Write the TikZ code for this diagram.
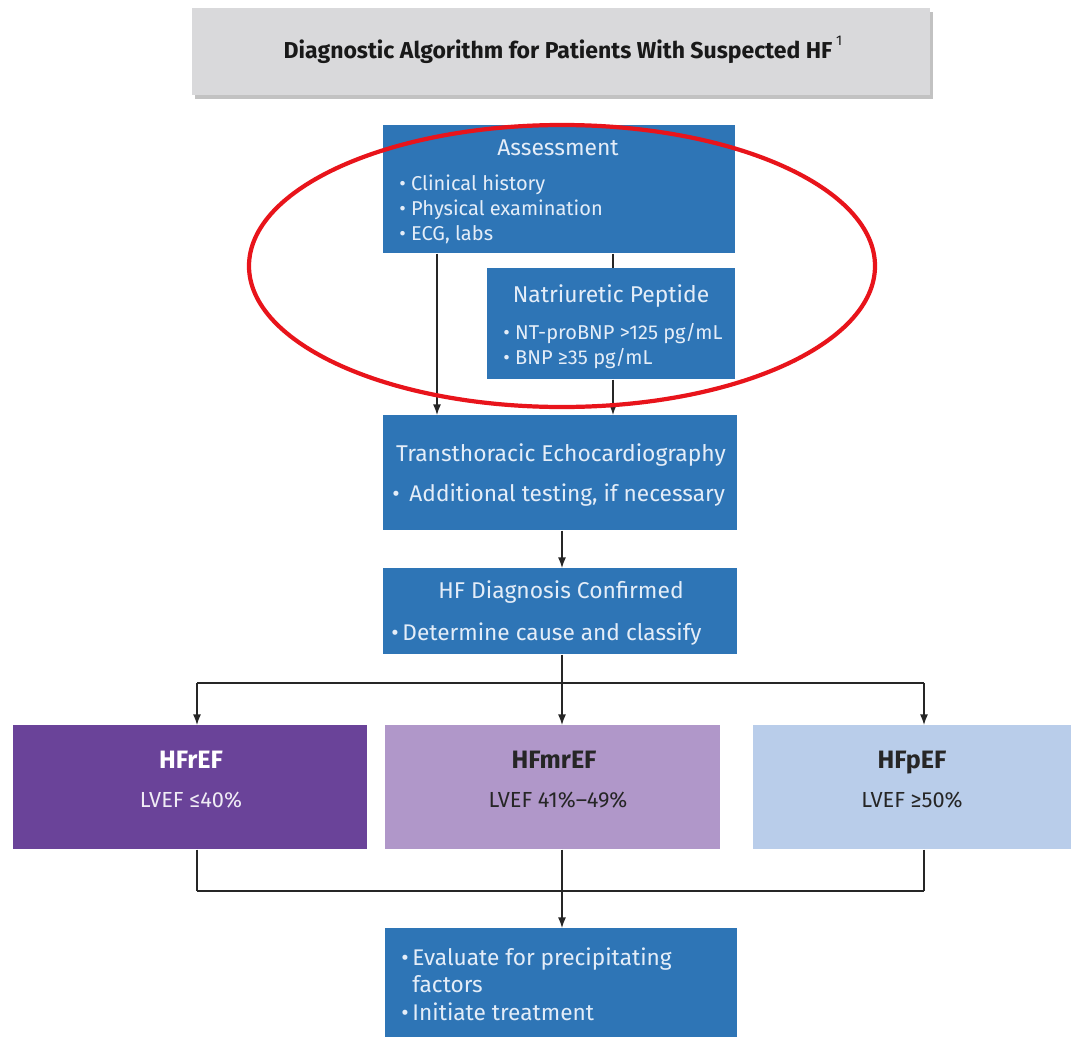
\documentclass[tikz,border=0pt]{standalone}
\usepackage{fontspec}
\setmainfont{Fira Sans}
\usetikzlibrary{arrows.meta,shadows}

\definecolor{hfblue}{HTML}{2E75B6}
\definecolor{hftext}{HTML}{E4EDF8}
\definecolor{hfgray}{HTML}{D9D9DB}
\definecolor{hfpurple}{HTML}{6A4399}
\definecolor{hflilac}{HTML}{B097C9}
\definecolor{hfsky}{HTML}{B9CDEA}
\definecolor{hfred}{HTML}{E8141B}

\begin{document}
\begin{tikzpicture}[x=0.02cm,y=-0.02cm]
    \tikzstyle{box}=[rectangle,anchor=north west,inner sep=0pt,fill=hfblue]
    \tikzstyle{head}=[inner sep=0pt,text=hftext,font=\fontsize{13}{15}\selectfont]
    \tikzstyle{items}=[anchor=north west,align=left,inner sep=0pt,text=hftext,font=\fontsize{11.4}{14.2}\selectfont]
    \tikzstyle{group}=[inner sep=0pt,text depth=0pt,font=\fontsize{14.3}{16}\selectfont\bfseries]
    \tikzstyle{lvef}=[inner sep=0pt,font=\fontsize{12.4}{14}\selectfont]
    \tikzstyle{link}=[draw=black!85,line width=0.7pt]
    \tikzstyle{arrow}=[link,-{Latex[length=6pt,width=4.5pt]}]

    \useasboundingbox (0,0) rectangle (1071,1037);

    % title bar
    \node (title)[box,fill=hfgray,minimum width=14.76cm,minimum height=1.74cm,
        drop shadow={shadow xshift=1.5pt,shadow yshift=-2pt,fill=black!40,opacity=0.6}] at (192,8) {};
    \node (titletext)[inner sep=0pt,font=\fontsize{13.1}{15}\selectfont\bfseries,text=black!90]
        at (563,50) {Diagnostic Algorithm for Patients With Suspected HF\,{\mdseries\raisebox{1.1ex}{\footnotesize 1}}};

    % blue boxes
    \node (assess)[box,minimum width=7.04cm,minimum height=2.56cm] at (383,125) {};
    \node (np)[box,minimum width=4.96cm,minimum height=2.22cm] at (487,268) {};
    \node (echo)[box,minimum width=7.08cm,minimum height=2.30cm] at (383,415) {};
    \node (dx)[box,minimum width=7.08cm,minimum height=1.72cm] at (383,568) {};
    \node (eval)[box,minimum width=7.04cm,minimum height=2.18cm] at (385,928) {};

    \node (assesshead)[head] at (558,148) {Assessment};
    \node (assessitems)[items] at (399,175) {• Clinical history\\• Physical examination\\• ECG, labs};
    \node (nphead)[head] at (611,296) {Natriuretic Peptide};
    \node (npitems)[items] at (503,323) {• NT-proBNP >125 pg/mL\\• BNP ≥35 pg/mL};
    \node (echohead)[head] at (561,455) {Transthoracic Echocardiography};
    \node (echoitems)[items,font=\fontsize{12.9}{15}\selectfont] at (392,483) {•\, Additional testing, if necessary};
    \node (dxhead)[head] at (561,592) {HF Diagnosis Confirmed};
    \node (dxitems)[items,font=\fontsize{12.9}{15}\selectfont] at (391,622) {•\,Determine cause and classify};
    \node (evalitems)[items,font=\fontsize{12.9}{15.8}\selectfont] at (401,947)
        {•\,Evaluate for precipitating\\\hphantom{•\,}factors\\•\,Initiate treatment};

    % ejection fraction groups
    \node (hfref)[box,fill=hfpurple,minimum width=7.08cm,minimum height=2.48cm] at (13,725) {};
    \node (hfmref)[box,fill=hflilac,minimum width=6.70cm,minimum height=2.48cm] at (385,725) {};
    \node (hfpef)[box,fill=hfsky,minimum width=6.36cm,minimum height=2.48cm] at (753,725) {};

    \node (hfrefname)[group,text=white] at (191,760) {HFrEF};
    \node (hfrefval)[lvef,text=white!90!hfpurple] at (191,800) {LVEF ≤40\%};
    \node (hfmrefname)[group,text=black!85] at (554,760) {HFmrEF};
    \node (hfmrefval)[lvef,text=black!85] at (558,800) {LVEF 41\%–49\%};
    \node (hfpefname)[group,text=black!85] at (912,760) {HFpEF};
    \node (hfpefval)[lvef,text=black!85] at (912,800) {LVEF ≥50\%};

    % connectors
    \coordinate (cl) at (437,0);
    \coordinate (cr) at (613,0);
    \coordinate (cm) at (562,0);
    \coordinate (ca) at (197,0);
    \coordinate (cc) at (924,0);
    \coordinate (split) at (562,683);
    \coordinate (join) at (562,891);

    \draw[link] (assess.south -| cr) -- (np.north -| cr);
    \draw[arrow] (assess.south -| cl) -- (echo.north -| cl);
    \draw[arrow] (np.south -| cr) -- (echo.north -| cr);
    \draw[arrow] (echo.south -| cm) -- (dx.north -| cm);
    \draw[link] (dx.south -| cm) -- (split);
    \draw[link] (split -| ca) -- (split -| cc);
    \foreach \c/\b in {ca/hfref,cm/hfmref,cc/hfpef}{
        \draw[arrow] (split -| \c) -- (\b.north -| \c);
        \draw[link] (\b.south -| \c) -- (join -| \c);
    }
    \draw[link] (join -| ca) -- (join -| cc);
    \draw[arrow] (join) -- (eval.north -| cm);

    % highlight
    \draw[hfred,line width=2.4pt] (562,266) ellipse [x radius=313,y radius=141];
\end{tikzpicture}
\end{document}
